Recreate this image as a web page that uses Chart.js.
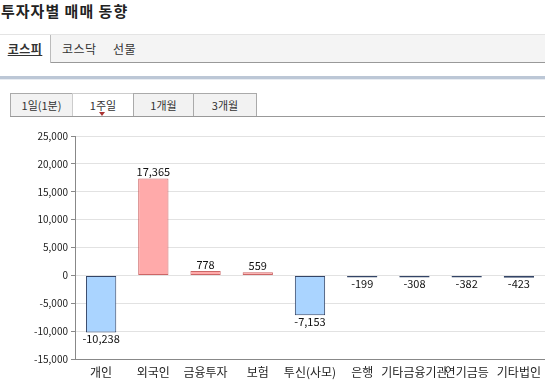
<!DOCTYPE html>
<html><head><meta charset="utf-8">
<script src="https://cdn.jsdelivr.net/npm/chart.js@4/dist/chart.umd.min.js"></script>
<style>
body{margin:0;width:545px;height:384px;overflow:hidden;background:#fff;font-family:"Noto Sans CJK KR","Noto Sans",sans-serif;position:relative}
#title{position:absolute;left:1px;top:0px;font-size:15px;font-weight:bold;color:#222;letter-spacing:1px}
#tabbar{position:absolute;left:0;top:34px;width:545px;height:27px;background:#f4f4f4;border-top:1px solid #e4e4e4;border-bottom:1px solid #999}
.tab{position:absolute;top:0;height:27px;line-height:27px;font-size:12px;color:#333;letter-spacing:0.5px}
#t1{left:0;width:50px;background:#fff;border-right:1px solid #bbb;font-weight:bold;text-decoration:underline;text-align:center;height:28px}
#t2{left:62px}
#t3{left:113px}
#blueline{position:absolute;left:0;top:76px;width:545px;height:3px;background:#bcc7d6;border-bottom:1px solid #e8ecf2}
#subline{position:absolute;left:10px;top:116px;width:535px;height:1px;background:#999}
.st{position:absolute;top:93px;height:22px;line-height:22px;font-size:11px;color:#333;text-align:center;border:1px solid #aaa;border-bottom:none;background:#f2f2f2}
#s1{left:10px;width:61px}
#s2{left:72px;width:60px;background:#fff;border-color:#ccc}
#s3{left:133px;width:59px}
#s4{left:193px;width:62px}
#tri{position:absolute;left:99px;top:112px;width:0;height:0;border-left:3px solid transparent;border-right:3px solid transparent;border-top:4px solid #a33}
#wrap{position:absolute;left:0;top:120px;width:545px;height:264px}
</style></head>
<body>
<div id="title">투자자별 매매 동향</div>
<div id="tabbar"><div class="tab" id="t1">코스피</div><div class="tab" id="t2">코스닥</div><div class="tab" id="t3">선물</div></div>
<div id="blueline"></div>
<div class="st" id="s1">1일(1분)</div><div class="st" id="s2">1주일</div><div class="st" id="s3">1개월</div><div class="st" id="s4">3개월</div>
<div id="tri"></div>
<div id="subline"></div>
<div id="wrap"><canvas id="c" width="545" height="264"></canvas></div>
<script>
const categories = ["개인","외국인","금융투자","보험","투신(사모)","은행","기타금융기관","연기금등","기타법인"];
const values = [-10238, 17365, 778, 559, -7153, -199, -308, -382, -423];
const yTicks = [25000, 20000, 15000, 10000, 5000, 0, -5000, -10000, -15000];

const fmt = v => v.toLocaleString('en-US');
const labelPlugin = {
  id:'vlabels',
  afterDatasetsDraw(chart){
    const ctx = chart.ctx;
    const meta = chart.getDatasetMeta(0);
    ctx.save();
    ctx.font = '11px "Noto Sans CJK KR", sans-serif';
    ctx.fillStyle = '#111';
    ctx.textAlign = 'center';
    meta.data.forEach((bar,i)=>{
      const v = values[i];
      if (v >= 0){ ctx.textBaseline='bottom'; ctx.fillText(fmt(v), bar.x, bar.y - 1); }
      else { ctx.textBaseline='top'; ctx.fillText(fmt(v), bar.x, bar.y + 1); }
    });
    ctx.restore();
  }
};

new Chart(document.getElementById('c'), {
  type:'bar',
  data:{ labels: categories, datasets:[{
    data: values,
    backgroundColor: values.map(v => v >= 0 ? '#ffaaaa' : '#aad4ff'),
    borderColor: values.map(v => v >= 0 ? '#cc6666' : '#334466'),
    borderWidth: 1,
    borderSkipped: false,
    minBarLength: 2,
    categoryPercentage: 1,
    barPercentage: 0.58
  }]},
  options:{
    responsive:false, animation:false,
    layout:{ padding:{ top:16, right:0, left:0, bottom:0 } },
    plugins:{ legend:{display:false}, tooltip:{enabled:false} },
    scales:{
      x:{
        grid:{ display:false, drawTicks:true, tickLength:4 },
        border:{ color:'#888' },
        ticks:{ color:'#222', font:{ size:12, family:'"Noto Sans CJK KR", sans-serif' }, padding:2, maxRotation:0, autoSkip:false },
        afterFit(s){ s.height = 25; }
      },
      y:{
        min:-15000, max:25000,
        afterBuildTicks(s){ s.ticks = yTicks.map(v=>({value:v})); },
        grid:{ color:'#e2e2e2', tickLength:4, tickColor:'#888' },
        border:{ color:'#888' },
        ticks:{ color:'#222', font:{ size:10, family:'"Noto Sans CJK KR", sans-serif' }, padding:3, callback:v=>fmt(v) },
        afterFit(s){ s.width = 75; }
      }
    }
  },
  plugins:[labelPlugin]
});
</script>
</body></html>
